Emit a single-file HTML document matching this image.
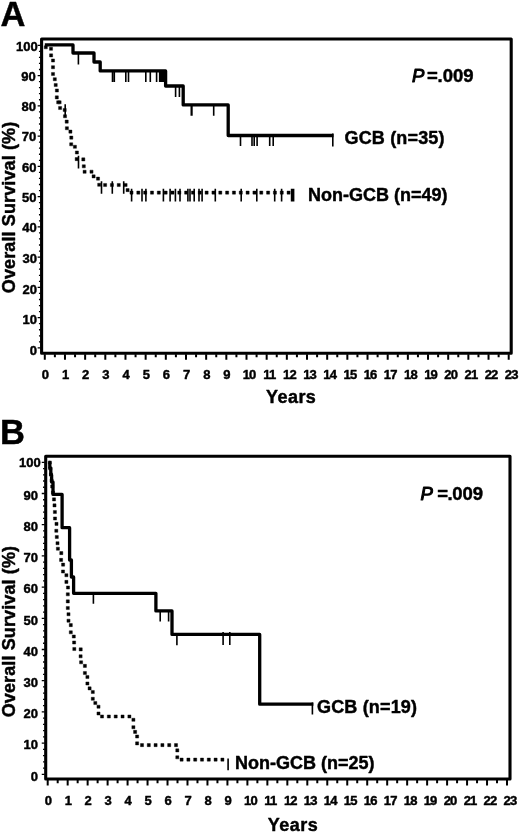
<!DOCTYPE html>
<html><head><meta charset="utf-8"><style>
html,body{margin:0;padding:0;background:#fff;width:520px;height:833px;overflow:hidden;}
text{font-family:"Liberation Sans", sans-serif;stroke:#000;stroke-width:0.45px;}
</style></head><body>
<svg width="520" height="833" viewBox="0 0 520 833" style="position:absolute;left:0;top:0;filter:blur(0.3px)" font-family='"Liberation Sans", sans-serif' font-weight="bold" fill="#000" stroke-linejoin="round">
<path d="M41.6 353.2V39H511.2V353.2Z" fill="none" stroke="#000" stroke-width="3.1" stroke-linejoin="round"/>
<path d="M44.8 354.25V359.75M54.88 354.25V357.35M64.97 354.25V359.75M75.06 354.25V357.35M85.14 354.25V359.75M95.22 354.25V357.35M105.31 354.25V359.75M115.39 354.25V357.35M125.48 354.25V359.75M135.56 354.25V357.35M145.65 354.25V359.75M155.74 354.25V357.35M165.82 354.25V359.75M175.91 354.25V357.35M185.99 354.25V359.75M196.07 354.25V357.35M206.16 354.25V359.75M216.25 354.25V357.35M226.33 354.25V359.75M236.42 354.25V357.35M246.5 354.25V359.75M256.59 354.25V357.35M266.67 354.25V359.75M276.75 354.25V357.35M286.84 354.25V359.75M296.93 354.25V357.35M307.01 354.25V359.75M317.1 354.25V357.35M327.18 354.25V359.75M337.27 354.25V357.35M347.35 354.25V359.75M357.44 354.25V357.35M367.52 354.25V359.75M377.61 354.25V357.35M387.69 354.25V359.75M397.78 354.25V357.35M407.86 354.25V359.75M417.95 354.25V357.35M428.03 354.25V359.75M438.12 354.25V357.35M448.2 354.25V359.75M458.29 354.25V357.35M468.37 354.25V359.75M478.46 354.25V357.35M488.54 354.25V359.75M498.63 354.25V357.35M508.71 354.25V359.75" stroke="#000" stroke-width="2.0" fill="none"/>
<path d="M40.55 347.9H37.65M40.55 341.85H38.95M40.55 335.8H38.95M40.55 329.74H38.95M40.55 323.69H38.95M40.55 317.64H37.65M40.55 311.59H38.95M40.55 305.54H38.95M40.55 299.48H38.95M40.55 293.43H38.95M40.55 287.38H37.65M40.55 281.33H38.95M40.55 275.28H38.95M40.55 269.22H38.95M40.55 263.17H38.95M40.55 257.12H37.65M40.55 251.07H38.95M40.55 245.02H38.95M40.55 238.96H38.95M40.55 232.91H38.95M40.55 226.86H37.65M40.55 220.81H38.95M40.55 214.76H38.95M40.55 208.7H38.95M40.55 202.65H38.95M40.55 196.6H37.65M40.55 190.55H38.95M40.55 184.5H38.95M40.55 178.44H38.95M40.55 172.39H38.95M40.55 166.34H37.65M40.55 160.29H38.95M40.55 154.24H38.95M40.55 148.18H38.95M40.55 142.13H38.95M40.55 136.08H37.65M40.55 130.03H38.95M40.55 123.98H38.95M40.55 117.92H38.95M40.55 111.87H38.95M40.55 105.82H37.65M40.55 99.77H38.95M40.55 93.72H38.95M40.55 87.66H38.95M40.55 81.61H38.95M40.55 75.56H37.65M40.55 69.51H38.95M40.55 63.46H38.95M40.55 57.4H38.95M40.55 51.35H38.95M40.55 45.3H37.65" stroke="#000" stroke-width="1.3" fill="none"/>
<text x="45.4" y="378.6" text-anchor="middle" font-size="13">0</text>
<text x="65.57" y="378.6" text-anchor="middle" font-size="13">1</text>
<text x="85.74" y="378.6" text-anchor="middle" font-size="13">2</text>
<text x="105.91" y="378.6" text-anchor="middle" font-size="13">3</text>
<text x="126.08" y="378.6" text-anchor="middle" font-size="13">4</text>
<text x="146.25" y="378.6" text-anchor="middle" font-size="13">5</text>
<text x="166.42" y="378.6" text-anchor="middle" font-size="13">6</text>
<text x="186.59" y="378.6" text-anchor="middle" font-size="13">7</text>
<text x="206.76" y="378.6" text-anchor="middle" font-size="13">8</text>
<text x="226.93" y="378.6" text-anchor="middle" font-size="13">9</text>
<text x="249.1" y="378.6" text-anchor="middle" font-size="13" letter-spacing="-0.8">10</text>
<text x="269.27" y="378.6" text-anchor="middle" font-size="13" letter-spacing="-0.8">11</text>
<text x="289.44" y="378.6" text-anchor="middle" font-size="13" letter-spacing="-0.8">12</text>
<text x="309.61" y="378.6" text-anchor="middle" font-size="13" letter-spacing="-0.8">13</text>
<text x="329.78" y="378.6" text-anchor="middle" font-size="13" letter-spacing="-0.8">14</text>
<text x="349.95" y="378.6" text-anchor="middle" font-size="13" letter-spacing="-0.8">15</text>
<text x="370.12" y="378.6" text-anchor="middle" font-size="13" letter-spacing="-0.8">16</text>
<text x="390.29" y="378.6" text-anchor="middle" font-size="13" letter-spacing="-0.8">17</text>
<text x="410.46" y="378.6" text-anchor="middle" font-size="13" letter-spacing="-0.8">18</text>
<text x="430.63" y="378.6" text-anchor="middle" font-size="13" letter-spacing="-0.8">19</text>
<text x="450.8" y="378.6" text-anchor="middle" font-size="13" letter-spacing="-0.8">20</text>
<text x="470.97" y="378.6" text-anchor="middle" font-size="13" letter-spacing="-0.8">21</text>
<text x="491.14" y="378.6" text-anchor="middle" font-size="13" letter-spacing="-0.8">22</text>
<text x="511.31" y="378.6" text-anchor="middle" font-size="13" letter-spacing="-0.8">23</text>
<text x="37" y="354.9" text-anchor="end" font-size="13">0</text>
<text x="37" y="323.94" text-anchor="end" font-size="13">10</text>
<text x="37" y="293.88" text-anchor="end" font-size="13">20</text>
<text x="37" y="262.52" text-anchor="end" font-size="13">30</text>
<text x="36.7" y="232.26" text-anchor="end" font-size="13">40</text>
<text x="36.5" y="202" text-anchor="end" font-size="13">50</text>
<text x="36.4" y="171.64" text-anchor="end" font-size="13">60</text>
<text x="36.3" y="141.38" text-anchor="end" font-size="13">70</text>
<text x="36" y="111.02" text-anchor="end" font-size="13">80</text>
<text x="35.8" y="80.66" text-anchor="end" font-size="13">90</text>
<text x="37.8" y="50.5" text-anchor="end" font-size="13">100</text>
<text x="266" y="403.2" font-size="18" letter-spacing="0.45">Years</text>
<text transform="translate(14.8 207.4) rotate(-90)" text-anchor="middle" font-size="18" letter-spacing="0.12">Overall Survival (%)</text>
<text x="0.6" y="26.1" font-size="34.5">A</text>
<text y="82.4" font-size="18.5"><tspan x="412" font-style="italic" font-weight="normal" stroke-width="1.05">P</tspan><tspan x="426.9">=</tspan><tspan x="437.5">.</tspan><tspan x="442.7">009</tspan></text>
<text x="344.5" y="143.6" font-size="18" letter-spacing="0.17">GCB (n=35)</text>
<text x="308" y="200.8" font-size="18">Non-GCB (n=49)</text>
<path d="M44.8 44.9H73V53H94V62H100.2V70.9H165.6V86H183.2V104.9H228.2V135.5H333.5V135.5" fill="none" stroke="#000" stroke-width="3.3" stroke-linejoin="round" stroke-linecap="butt"/>
<path d="M44.25 45.75h3.1v3.1h-3.1ZM49.45 47.25h3.1v3.1h-3.1ZM49.55 53.85h3.1v3.1h-3.1ZM51.45 58.95h3.1v3.1h-3.1ZM51.45 65.65h3.1v3.1h-3.1ZM51.45 72.45h3.1v3.1h-3.1ZM53.25 77.65h3.1v3.1h-3.1ZM54.15 83.45h3.1v3.1h-3.1ZM55.35 88.95h3.1v3.1h-3.1ZM55.25 95.85h3.1v3.1h-3.1ZM56.65 100.75h3.1v3.1h-3.1ZM58.05 100.75h3.1v3.1h-3.1ZM58.55 106.45h3.1v3.1h-3.1ZM63.15 108.45h3.1v3.1h-3.1ZM63.45 114.65h3.1v3.1h-3.1ZM65.15 120.05h3.1v3.1h-3.1ZM65.35 126.65h3.1v3.1h-3.1ZM68.85 130.05h3.1v3.1h-3.1ZM69.75 136.05h3.1v3.1h-3.1ZM69.65 142.75h3.1v3.1h-3.1ZM73.35 145.25h3.1v3.1h-3.1ZM75.35 150.95h3.1v3.1h-3.1ZM75.15 157.55h3.1v3.1h-3.1ZM81.75 157.85h3.1v3.1h-3.1ZM82.25 164.75h3.1v3.1h-3.1ZM83.05 170.25h3.1v3.1h-3.1ZM89.95 170.15h3.1v3.1h-3.1ZM92.05 174.85h3.1v3.1h-3.1ZM96.45 177.05h3.1v3.1h-3.1ZM97.65 183.25h3.1v3.1h-3.1ZM103.55 183.45h3.1v3.1h-3.1ZM110.38 183.45h3.1v3.1h-3.1ZM117.21 183.45h3.1v3.1h-3.1ZM124.04 183.45h3.1v3.1h-3.1ZM126.05 188.55h3.1v3.1h-3.1ZM129.95 191.05h3.1v3.1h-3.1ZM136.78 191.05h3.1v3.1h-3.1ZM143.61 191.05h3.1v3.1h-3.1ZM150.44 191.05h3.1v3.1h-3.1ZM157.27 191.05h3.1v3.1h-3.1ZM164.1 191.05h3.1v3.1h-3.1ZM170.93 191.05h3.1v3.1h-3.1ZM177.76 191.05h3.1v3.1h-3.1ZM184.59 191.05h3.1v3.1h-3.1ZM191.42 191.05h3.1v3.1h-3.1ZM198.25 191.05h3.1v3.1h-3.1ZM205.08 191.05h3.1v3.1h-3.1ZM211.91 191.05h3.1v3.1h-3.1ZM218.74 191.05h3.1v3.1h-3.1ZM225.57 191.05h3.1v3.1h-3.1ZM232.4 191.05h3.1v3.1h-3.1ZM239.23 191.05h3.1v3.1h-3.1ZM246.06 191.05h3.1v3.1h-3.1ZM252.89 191.05h3.1v3.1h-3.1ZM259.72 191.05h3.1v3.1h-3.1ZM266.55 191.05h3.1v3.1h-3.1ZM273.38 191.05h3.1v3.1h-3.1ZM280.21 191.05h3.1v3.1h-3.1ZM287.04 191.05h3.1v3.1h-3.1Z" fill="#000" stroke="#000" stroke-width="0.4" stroke-linejoin="round"/>
<path d="M78.4 53V64.6M112.5 70.9V82M114.3 70.9V82M125.8 70.9V82M128.5 70.9V82M145.8 70.9V82M150.3 70.9V82M156.6 70.9V82M159.7 70.9V82M161.3 70.9V82M162.6 70.9V82M163.8 70.9V82M175.6 86V97M179.4 86V97M191.3 104.9V115.7M191.9 104.9V115.7M213.7 104.9V115.7M240.5 135.5V146.1M252 135.5V146.1M254.2 135.5V146.1M257.1 135.5V146.1M269.7 135.5V146.1M273.2 135.5V146.1M332.8 133.5V146.4M65.2 104.2V116.2M78.5 155.8V168.4M101.5 181.2V193.7M112.3 181.2V193.7M123.7 181.2V193.7M131.6 188.8V201.6M142 188.8V201.6M145.9 188.8V201.6M163.4 188.8V201.6M170.1 188.8V201.6M175.4 188.8V201.6M180 188.8V201.6M187.9 188.8V201.6M190 188.8V201.6M194.2 188.8V201.6M199 188.8V201.6M202.1 188.8V201.6M215.3 188.8V201.6M241.2 188.8V201.6M256.8 188.8V201.6M274.7 188.8V201.6M281.6 188.8V201.6M291.6 188.8V201.6M292.8 188.8V201.6M293.6 188.8V201.6" stroke="#000" stroke-width="1.6" fill="none"/>
<path d="M45.7 779V456.2H510V779Z" fill="none" stroke="#000" stroke-width="3.1" stroke-linejoin="round"/>
<path d="M47.7 780.05V785.55M57.69 780.05V783.35M67.67 780.05V785.55M77.66 780.05V783.35M87.64 780.05V785.55M97.62 780.05V783.35M107.61 780.05V785.55M117.59 780.05V783.35M127.58 780.05V785.55M137.56 780.05V783.35M147.55 780.05V785.55M157.53 780.05V783.35M167.52 780.05V785.55M177.5 780.05V783.35M187.49 780.05V785.55M197.47 780.05V783.35M207.46 780.05V785.55M217.44 780.05V783.35M227.43 780.05V785.55M237.41 780.05V783.35M247.4 780.05V785.55M257.38 780.05V783.35M267.37 780.05V785.55M277.35 780.05V783.35M287.34 780.05V785.55M297.32 780.05V783.35M307.31 780.05V785.55M317.29 780.05V783.35M327.28 780.05V785.55M337.26 780.05V783.35M347.25 780.05V785.55M357.23 780.05V783.35M367.22 780.05V785.55M377.2 780.05V783.35M387.19 780.05V785.55M397.17 780.05V783.35M407.16 780.05V785.55M417.14 780.05V783.35M427.13 780.05V785.55M437.11 780.05V783.35M447.1 780.05V785.55M457.08 780.05V783.35M467.07 780.05V785.55M477.05 780.05V783.35M487.04 780.05V785.55M497.02 780.05V783.35M507.01 780.05V785.55" stroke="#000" stroke-width="2.0" fill="none"/>
<path d="M44.65 774.3H41.75M44.65 768.06H43.05M44.65 761.82H43.05M44.65 755.58H43.05M44.65 749.34H43.05M44.65 743.1H41.75M44.65 736.86H43.05M44.65 730.62H43.05M44.65 724.38H43.05M44.65 718.14H43.05M44.65 711.9H41.75M44.65 705.66H43.05M44.65 699.42H43.05M44.65 693.18H43.05M44.65 686.94H43.05M44.65 680.7H41.75M44.65 674.46H43.05M44.65 668.22H43.05M44.65 661.98H43.05M44.65 655.74H43.05M44.65 649.5H41.75M44.65 643.26H43.05M44.65 637.02H43.05M44.65 630.78H43.05M44.65 624.54H43.05M44.65 618.3H41.75M44.65 612.06H43.05M44.65 605.82H43.05M44.65 599.58H43.05M44.65 593.34H43.05M44.65 587.1H41.75M44.65 580.86H43.05M44.65 574.62H43.05M44.65 568.38H43.05M44.65 562.14H43.05M44.65 555.9H41.75M44.65 549.66H43.05M44.65 543.42H43.05M44.65 537.18H43.05M44.65 530.94H43.05M44.65 524.7H41.75M44.65 518.46H43.05M44.65 512.22H43.05M44.65 505.98H43.05M44.65 499.74H43.05M44.65 493.5H41.75M44.65 487.26H43.05M44.65 481.02H43.05M44.65 474.78H43.05M44.65 468.54H43.05M44.65 462.3H41.75" stroke="#000" stroke-width="1.3" fill="none"/>
<text x="48.3" y="805.3" text-anchor="middle" font-size="13">0</text>
<text x="68.27" y="805.3" text-anchor="middle" font-size="13">1</text>
<text x="88.24" y="805.3" text-anchor="middle" font-size="13">2</text>
<text x="108.21" y="805.3" text-anchor="middle" font-size="13">3</text>
<text x="128.18" y="805.3" text-anchor="middle" font-size="13">4</text>
<text x="148.15" y="805.3" text-anchor="middle" font-size="13">5</text>
<text x="168.12" y="805.3" text-anchor="middle" font-size="13">6</text>
<text x="188.09" y="805.3" text-anchor="middle" font-size="13">7</text>
<text x="208.06" y="805.3" text-anchor="middle" font-size="13">8</text>
<text x="228.03" y="805.3" text-anchor="middle" font-size="13">9</text>
<text x="250.4" y="805.3" text-anchor="middle" font-size="13" letter-spacing="-0.8">10</text>
<text x="270.37" y="805.3" text-anchor="middle" font-size="13" letter-spacing="-0.8">11</text>
<text x="290.34" y="805.3" text-anchor="middle" font-size="13" letter-spacing="-0.8">12</text>
<text x="310.31" y="805.3" text-anchor="middle" font-size="13" letter-spacing="-0.8">13</text>
<text x="330.28" y="805.3" text-anchor="middle" font-size="13" letter-spacing="-0.8">14</text>
<text x="350.25" y="805.3" text-anchor="middle" font-size="13" letter-spacing="-0.8">15</text>
<text x="370.22" y="805.3" text-anchor="middle" font-size="13" letter-spacing="-0.8">16</text>
<text x="390.19" y="805.3" text-anchor="middle" font-size="13" letter-spacing="-0.8">17</text>
<text x="410.16" y="805.3" text-anchor="middle" font-size="13" letter-spacing="-0.8">18</text>
<text x="430.13" y="805.3" text-anchor="middle" font-size="13" letter-spacing="-0.8">19</text>
<text x="450.1" y="805.3" text-anchor="middle" font-size="13" letter-spacing="-0.8">20</text>
<text x="470.07" y="805.3" text-anchor="middle" font-size="13" letter-spacing="-0.8">21</text>
<text x="490.04" y="805.3" text-anchor="middle" font-size="13" letter-spacing="-0.8">22</text>
<text x="510.01" y="805.3" text-anchor="middle" font-size="13" letter-spacing="-0.8">23</text>
<text x="38" y="780.6" text-anchor="end" font-size="13">0</text>
<text x="38" y="749.2" text-anchor="end" font-size="13">10</text>
<text x="38" y="718.1" text-anchor="end" font-size="13">20</text>
<text x="38" y="686.9" text-anchor="end" font-size="13">30</text>
<text x="38" y="655.7" text-anchor="end" font-size="13">40</text>
<text x="38" y="624.5" text-anchor="end" font-size="13">50</text>
<text x="38" y="593.3" text-anchor="end" font-size="13">60</text>
<text x="38" y="562.2" text-anchor="end" font-size="13">70</text>
<text x="38" y="531" text-anchor="end" font-size="13">80</text>
<text x="38" y="499.9" text-anchor="end" font-size="13">90</text>
<text x="40.8" y="467.4" text-anchor="end" font-size="13">100</text>
<text x="267.8" y="831" font-size="18" letter-spacing="0.45">Years</text>
<text transform="translate(14.6 631.6) rotate(-90)" text-anchor="middle" font-size="18" letter-spacing="0.12">Overall Survival (%)</text>
<text x="0" y="444.2" font-size="34.5">B</text>
<text y="500.3" font-size="18.5"><tspan x="420.6" font-style="italic" font-weight="normal" stroke-width="1.05">P</tspan><tspan x="437.3">=</tspan><tspan x="447.6">.</tspan><tspan x="452.2">009</tspan></text>
<text x="317" y="713" font-size="18" letter-spacing="0.17">GCB (n=19)</text>
<text x="235" y="769" font-size="18">Non-GCB (n=25)</text>
<path d="M49.4 462.3H49.8V468H50.8V475H51.6V482H53V494.4H62.1V527.7H69.6V560H71.4V577H73.6V593.3H155.9V610.9H172V634.4H259.7V704.2H313.4V704.2" fill="none" stroke="#000" stroke-width="3.3" stroke-linejoin="round" stroke-linecap="butt"/>
<path d="M48.25 460.95h3.1v3.1h-3.1ZM48.75 466.95h3.1v3.1h-3.1ZM49.45 472.95h3.1v3.1h-3.1ZM50.05 478.95h3.1v3.1h-3.1ZM50.65 484.95h3.1v3.1h-3.1ZM51.45 490.95h3.1v3.1h-3.1ZM52.45 497.85h3.1v3.1h-3.1ZM52.95 503.85h3.1v3.1h-3.1ZM53.35 510.45h3.1v3.1h-3.1ZM53.45 516.95h3.1v3.1h-3.1ZM54.95 522.35h3.1v3.1h-3.1ZM54.75 529.25h3.1v3.1h-3.1ZM55.25 535.45h3.1v3.1h-3.1ZM55.95 541.65h3.1v3.1h-3.1ZM56.35 547.15h3.1v3.1h-3.1ZM59.75 551.55h3.1v3.1h-3.1ZM59.55 558.35h3.1v3.1h-3.1ZM61.55 563.05h3.1v3.1h-3.1ZM61.45 569.95h3.1v3.1h-3.1ZM64.85 573.65h3.1v3.1h-3.1ZM64.85 580.35h3.1v3.1h-3.1ZM66.45 585.95h3.1v3.1h-3.1ZM66.25 592.75h3.1v3.1h-3.1ZM66.25 599.85h3.1v3.1h-3.1ZM66.25 606.45h3.1v3.1h-3.1ZM66.95 612.65h3.1v3.1h-3.1ZM66.95 619.15h3.1v3.1h-3.1ZM69.25 623.55h3.1v3.1h-3.1ZM69.25 630.75h3.1v3.1h-3.1ZM72.25 634.95h3.1v3.1h-3.1ZM72.55 640.95h3.1v3.1h-3.1ZM72.75 647.45h3.1v3.1h-3.1ZM79.15 647.85h3.1v3.1h-3.1ZM79.05 654.75h3.1v3.1h-3.1ZM79.55 660.75h3.1v3.1h-3.1ZM83.35 664.35h3.1v3.1h-3.1ZM83.35 671.45h3.1v3.1h-3.1ZM85.85 675.45h3.1v3.1h-3.1ZM85.85 681.95h3.1v3.1h-3.1ZM88.05 686.85h3.1v3.1h-3.1ZM91.25 690.45h3.1v3.1h-3.1ZM91.25 697.25h3.1v3.1h-3.1ZM93.75 701.45h3.1v3.1h-3.1ZM96.95 705.15h3.1v3.1h-3.1ZM96.95 711.95h3.1v3.1h-3.1ZM100.45 714.95h3.1v3.1h-3.1ZM107.3 714.95h3.1v3.1h-3.1ZM114.15 714.95h3.1v3.1h-3.1ZM121 714.95h3.1v3.1h-3.1ZM127.85 714.95h3.1v3.1h-3.1ZM131.85 718.25h3.1v3.1h-3.1ZM131.85 725.65h3.1v3.1h-3.1ZM133.55 730.35h3.1v3.1h-3.1ZM135.55 734.95h3.1v3.1h-3.1ZM135.55 741.85h3.1v3.1h-3.1ZM140.45 743.55h3.1v3.1h-3.1ZM147.25 743.55h3.1v3.1h-3.1ZM154.05 743.55h3.1v3.1h-3.1ZM160.85 743.55h3.1v3.1h-3.1ZM167.65 743.55h3.1v3.1h-3.1ZM174.45 743.55h3.1v3.1h-3.1ZM175.75 748.85h3.1v3.1h-3.1ZM175.75 755.75h3.1v3.1h-3.1ZM180.05 758.05h3.1v3.1h-3.1ZM186.85 758.05h3.1v3.1h-3.1ZM193.65 758.05h3.1v3.1h-3.1ZM200.45 758.05h3.1v3.1h-3.1ZM207.25 758.05h3.1v3.1h-3.1ZM214.05 758.05h3.1v3.1h-3.1ZM220.85 758.05h3.1v3.1h-3.1Z" fill="#000" stroke="#000" stroke-width="0.4" stroke-linejoin="round"/>
<path d="M93.4 593.4V603.8M160.2 610V621.5M168.6 610V621.5M176.9 634.4V645.2M223.1 632V644.9M229.8 632V644.9M312.4 702.5V714.5M228.1 758.5V770.3" stroke="#000" stroke-width="1.6" fill="none"/>
</svg>
</body></html>
